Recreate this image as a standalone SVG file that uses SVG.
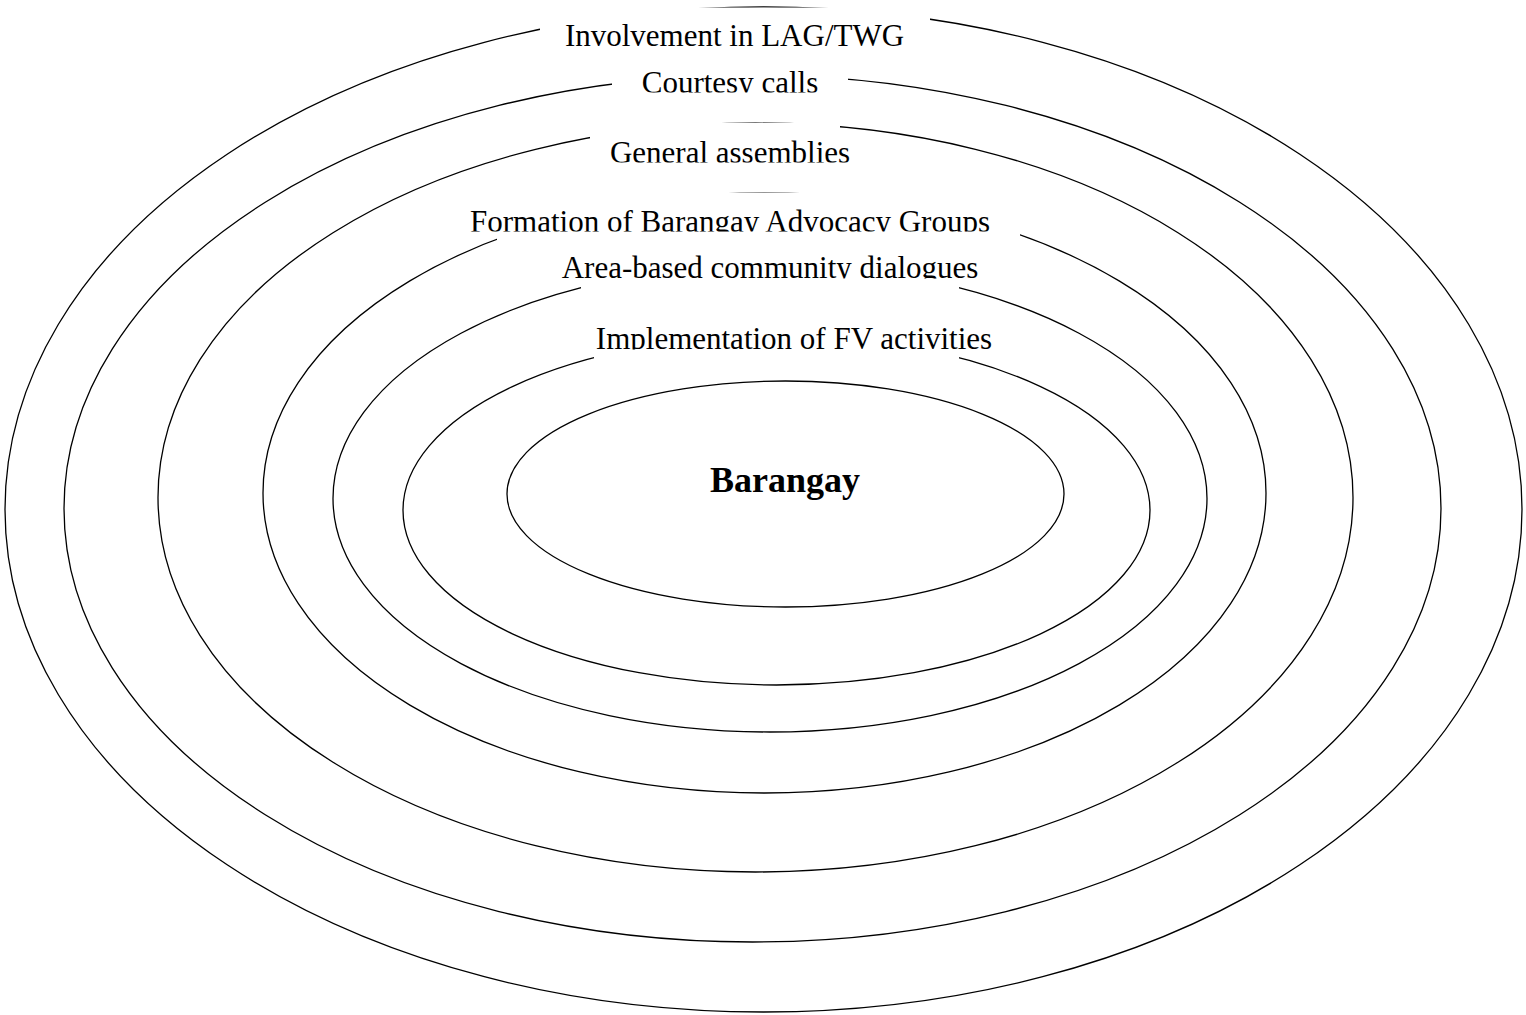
<svg xmlns="http://www.w3.org/2000/svg" width="1526" height="1015" viewBox="0 0 1526 1015">
  <style>
    .ring { fill: none; stroke: #000; stroke-width: 1.3; }
    .core { fill: #fff; stroke: #000; stroke-width: 1.3; }
    .box { fill: #fff; stroke: none; }
    .lbl { font-family: "Liberation Serif", "Times New Roman", serif; font-size: 31px; fill: #000; text-anchor: middle; }
    .title { font-family: "Liberation Serif", "Times New Roman", serif; font-size: 36px; font-weight: bold; fill: #000; text-anchor: middle; }
  </style>
  <defs>
    <!-- text areas: each label is cut off at the bottom of its box -->
    <clipPath id="clip-courtesy"><rect x="560" y="60" width="340" height="32.5"/></clipPath>
    <clipPath id="clip-general"><rect x="560" y="125" width="340" height="37.5"/></clipPath>
    <clipPath id="clip-formation"><rect x="440" y="195" width="620" height="36.5"/></clipPath>
    <clipPath id="clip-area"><rect x="540" y="245" width="480" height="33.5"/></clipPath>
    <clipPath id="clip-impl"><rect x="560" y="315" width="480" height="34.5"/></clipPath>
  </defs>

  <rect x="0" y="0" width="1526" height="1015" fill="#fff"/>

  <!-- outer ring -->
  <g id="ring-lag-twg">
    <ellipse class="ring" cx="763.5" cy="509.5" rx="758.5" ry="502.5"/>
    <rect class="box" x="540" y="7.5" width="390" height="52"/>
    <text class="lbl" x="734.5" y="46">Involvement in LAG/TWG</text>
  </g>

  <g id="ring-courtesy">
    <ellipse class="ring" cx="752.5" cy="508.5" rx="688.5" ry="433.5"/>
    <rect class="box" x="612" y="62" width="236" height="38"/>
    <text class="lbl" x="730" y="92.5" clip-path="url(#clip-courtesy)">Courtesy calls</text>
  </g>

  <g id="ring-general">
    <ellipse class="ring" cx="755.5" cy="497.5" rx="597.5" ry="374.5"/>
    <rect class="box" x="590" y="122.7" width="250" height="47"/>
    <text class="lbl" x="730" y="162.5" clip-path="url(#clip-general)">General assemblies</text>
  </g>

  <g id="ring-formation">
    <ellipse class="ring" cx="764.5" cy="493" rx="501.5" ry="300"/>
    <rect class="box" x="497" y="192.55" width="523" height="57"/>
    <text class="lbl" x="730" y="231.5" clip-path="url(#clip-formation)">Formation of Barangay Advocacy Groups</text>
  </g>

  <g id="ring-area">
    <ellipse class="ring" cx="770" cy="498.4" rx="437" ry="233.6"/>
    <rect class="box" x="581" y="245" width="378" height="47"/>
    <text class="lbl" x="770" y="278" clip-path="url(#clip-area)">Area-based community dialogues</text>
  </g>

  <g id="ring-implementation">
    <ellipse class="ring" cx="776.5" cy="510.2" rx="373.5" ry="174.8"/>
    <rect class="box" x="594" y="318" width="365" height="44"/>
    <text class="lbl" x="794" y="349" clip-path="url(#clip-impl)">Implementation of FV activities</text>
  </g>

  <!-- centre -->
  <g id="barangay">
    <ellipse class="core" cx="785.5" cy="494" rx="278.5" ry="113"/>
    <text class="title" x="785" y="492">Barangay</text>
  </g>

  <g id="connectors"/>
</svg>
